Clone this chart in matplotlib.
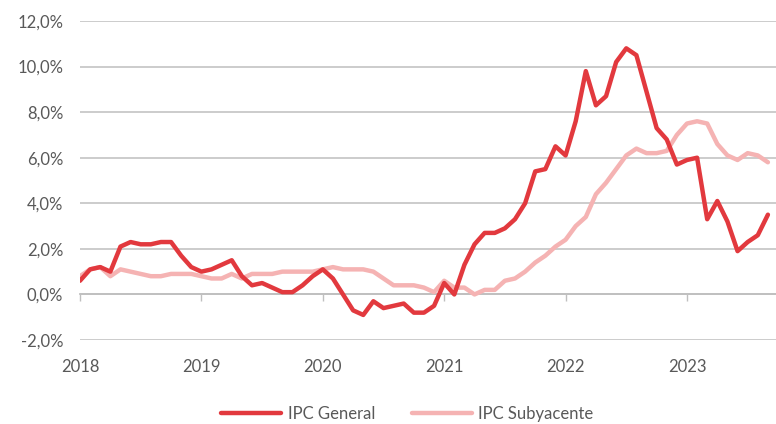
import matplotlib
matplotlib.use('Agg')
import matplotlib.pyplot as plt
import matplotlib.ticker as mticker
import numpy as np

# IPC interanual, enero 2018 - septiembre 2023 (%)
ipc_general = [
    0.6, 1.1, 1.2, 1.0, 2.1, 2.3, 2.2, 2.2, 2.3, 2.3, 1.7, 1.2,
    1.0, 1.1, 1.3, 1.5, 0.8, 0.4, 0.5, 0.3, 0.1, 0.1, 0.4, 0.8,
    1.1, 0.7, 0.0, -0.7, -0.9, -0.3, -0.6, -0.5, -0.4, -0.8, -0.8, -0.5,
    0.5, 0.0, 1.3, 2.2, 2.7, 2.7, 2.9, 3.3, 4.0, 5.4, 5.5, 6.5,
    6.1, 7.6, 9.8, 8.3, 8.7, 10.2, 10.8, 10.5, 8.9, 7.3, 6.8, 5.7,
    5.9, 6.0, 3.3, 4.1, 3.2, 1.9, 2.3, 2.6, 3.5,
]
ipc_subyacente = [
    0.8, 1.1, 1.2, 0.8, 1.1, 1.0, 0.9, 0.8, 0.8, 0.9, 0.9, 0.9,
    0.8, 0.7, 0.7, 0.9, 0.7, 0.9, 0.9, 0.9, 1.0, 1.0, 1.0, 1.0,
    1.1, 1.2, 1.1, 1.1, 1.1, 1.0, 0.7, 0.4, 0.4, 0.4, 0.3, 0.1,
    0.6, 0.3, 0.3, 0.0, 0.2, 0.2, 0.6, 0.7, 1.0, 1.4, 1.7, 2.1,
    2.4, 3.0, 3.4, 4.4, 4.9, 5.5, 6.1, 6.4, 6.2, 6.2, 6.3, 7.0,
    7.5, 7.6, 7.5, 6.6, 6.1, 5.9, 6.2, 6.1, 5.8,
]
years = ['2018', '2019', '2020', '2021', '2022', '2023']

months = np.arange(len(ipc_general))
year_pos = np.arange(len(years)) * 12

red = '#E2393E'
pink = '#F5B3B3'
grey_text = '#595959'
grid_col = '#C8C8C8'

plt.rcParams['font.family'] = ['Lato', 'DejaVu Sans']

fig = plt.figure(figsize=(7.76, 4.24), dpi=100)
ax = fig.add_axes([80 / 776, 1 - 340 / 424, 696 / 776, 319 / 424])

ax.plot(months, ipc_subyacente, color=pink, lw=3.2, solid_capstyle='round',
        solid_joinstyle='round', label='IPC Subyacente', zorder=3)
ax.plot(months, ipc_general, color=red, lw=3.2, solid_capstyle='round',
        solid_joinstyle='round', label='IPC General', zorder=4)

ax.set_ylim(-2, 12)
ax.set_xlim(0, 68.8)
ax.yaxis.set_major_locator(mticker.MultipleLocator(2))
ax.yaxis.set_major_formatter(
    mticker.FuncFormatter(lambda v, p: f'{v:.1f}'.replace('.', ',') + '%'))
ax.grid(axis='y', color=grid_col, lw=1.3)
ax.set_axisbelow(True)

for s in ['top', 'right', 'left']:
    ax.spines[s].set_visible(False)
ax.spines['bottom'].set_position(('data', 0))
ax.spines['bottom'].set_color('#BFBFBF')
ax.spines['bottom'].set_linewidth(1.3)

ax.set_xticks(year_pos)
ax.tick_params(axis='x', direction='out', length=5, color='#BFBFBF',
               width=1, labelbottom=False)
ax.tick_params(axis='y', length=0, pad=12, labelsize=12, labelcolor=grey_text)

sec = ax.secondary_xaxis('bottom')
sec.set_xticks(year_pos, years)
sec.tick_params(length=0, pad=14, labelsize=12, labelcolor=grey_text)
sec.spines['bottom'].set_visible(False)

h, l = ax.get_legend_handles_labels()
fig.legend(h[::-1], l[::-1], loc='lower center', bbox_to_anchor=(0.525, -0.03),
           ncol=2, frameon=False, handlelength=3.6, columnspacing=2.2,
           handletextpad=0.4, fontsize=12, labelcolor=grey_text)

fig.savefig('out.png', dpi=100)
